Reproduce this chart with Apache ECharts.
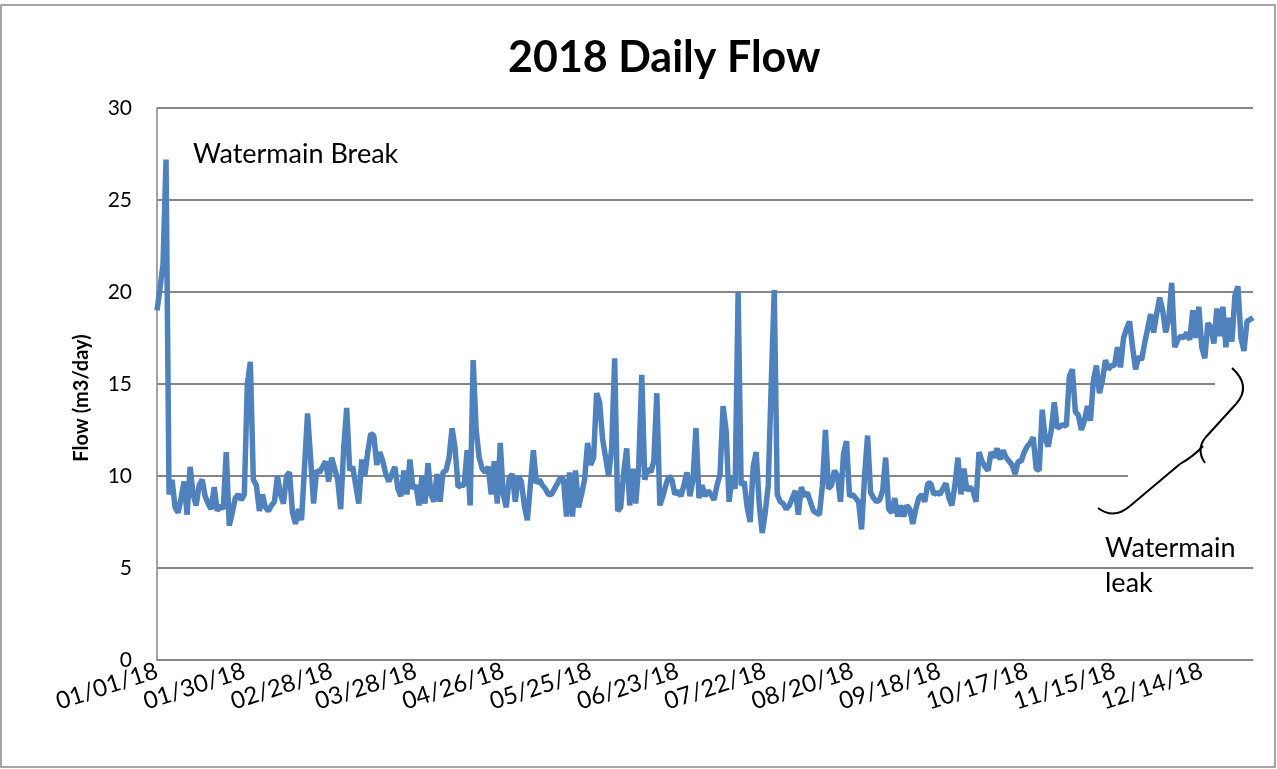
<!DOCTYPE html>
<html>
<head>
<meta charset="utf-8">
<script src="https://cdn.jsdelivr.net/npm/echarts@6/dist/echarts.min.js"></script>
<style>
html,body{margin:0;padding:0;background:#fff;}
#chart{width:1277px;height:769px;}
</style>
</head>
<body>
<div id="chart"></div>
<script>
// daily flow 2018, one array per month (m3/day)
var janFlow = [19.0,20.2,21.5,27.2,9.0,9.8,8.3,8.0,8.8,9.7,7.9,10.5,9.0,8.4,9.5,9.8,8.9,8.5,8.2,9.4,8.1,8.4,8.2,11.3,7.3,8.0,8.8,9.0,8.7,9.0,15.0];
var febFlow = [16.2,9.8,9.5,8.1,9.0,8.3,8.1,8.4,8.6,10.0,9.0,8.5,10.0,10.2,8.0,7.4,8.2,7.6,10.5,13.4,11.0,8.5,10.3,10.2,10.5,10.8,9.7,11.0];
var marFlow = [10.4,9.8,8.2,11.5,13.7,10.3,10.5,9.5,8.5,10.9,10.0,11.3,12.3,12.2,10.6,11.3,10.8,10.1,9.7,10.1,10.5,9.3,8.9,10.3,9.0,10.9,9.3,9.5,8.4,10.0,8.5];
var aprFlow = [10.7,9.0,8.6,10.1,8.6,10.2,10.3,11.0,12.6,11.5,9.4,9.5,9.5,11.4,8.4,16.3,12.5,11.0,10.4,10.2,10.5,9.0,10.8,8.5,11.8,9.0,8.3,9.9,10.1,8.6];
var mayFlow = [10.0,9.7,8.4,7.6,9.5,11.4,9.6,9.8,9.5,9.3,9.0,9.0,9.3,9.6,9.9,9.8,7.8,10.2,7.8,10.3,8.3,9.0,9.8,11.8,10.6,11.0,14.5,14.0,12.0,11.0,10.0];
var junFlow = [11.5,16.4,8.1,8.3,10.2,11.5,8.4,10.4,8.5,10.6,15.5,9.8,10.4,10.2,10.8,14.5,8.4,8.9,9.5,10.0,9.8,9.0,9.2,8.9,9.5,10.2,8.9,9.8,12.6,8.8];
var julFlow = [9.5,8.9,9.2,9.0,8.7,9.5,10.1,13.8,12.5,8.6,10.0,9.3,20.0,9.5,9.7,8.3,7.5,10.5,11.3,8.5,6.9,8.0,9.5,15.0,20.1,9.0,8.6,8.5,8.2,8.4,8.8];
var augFlow = [9.2,7.9,9.4,8.9,9.1,8.6,8.1,8.0,7.9,9.5,12.5,9.3,9.5,10.3,10.0,8.6,11.2,11.9,8.9,9.0,8.8,8.6,7.1,10.0,12.2,9.1,8.8,8.6,8.7,9.2,11.0];
var sepFlow = [8.2,8.0,8.8,7.8,8.4,7.8,8.4,8.2,7.4,8.2,8.8,9.0,8.6,9.6,9.6,9.0,9.1,9.0,9.3,9.6,8.8,8.4,9.5,11.0,9.0,10.4,9.2,9.4,9.2,8.6];
var octFlow = [11.3,10.8,10.5,10.3,11.3,11.0,11.5,10.9,11.4,11.0,10.8,10.6,10.1,10.8,10.8,11.3,11.6,11.8,12.1,10.4,10.3,13.6,12.0,11.6,12.5,14.0,12.6,12.7,12.8,12.7,15.4];
var novFlow = [15.8,13.5,13.3,12.5,13.0,13.8,13.0,15.2,16.0,14.5,15.2,16.3,15.8,16.0,16.0,17.0,15.9,17.5,18.0,18.4,17.0,15.8,16.5,16.3,17.2,18.0,18.8,17.8,18.8,19.7];
var decFlow = [19.0,17.8,18.5,20.5,17.0,17.4,17.6,17.5,17.8,17.4,19.0,17.5,19.2,17.0,16.4,18.3,18.1,17.2,19.1,17.6,19.2,17.0,18.6,17.3,19.8,20.3,17.5,16.8,18.4,18.5,18.6];

var monthFlows = [janFlow,febFlow,marFlow,aprFlow,mayFlow,junFlow,julFlow,augFlow,sepFlow,octFlow,novFlow,decFlow];
var xTickLabels = ['01/01/18','01/30/18','02/28/18','03/28/18','04/26/18','05/25/18','06/23/18','07/22/18','08/20/18','09/18/18','10/17/18','11/15/18','12/14/18'];
var yTicks = [0,5,10,15,20,25,30];

//build date categories mm/dd/18
function pad(n){ return n<10 ? '0'+n : ''+n; }
var dates = [];
var flow = [];
for(var m=0;m<monthFlows.length;m++){
	for(var d=0;d<monthFlows[m].length;d++){
		dates.push(pad(m+1)+'/'+pad(d+1)+'/18');
		flow.push(monthFlows[m][d]);
	}
}

var font = 'Lato, sans-serif';
var braceStyle = {fill:'none',stroke:'#000',lineWidth:2};
var myChart = echarts.init(document.getElementById('chart'));
var option = {
	animation:false,
	title:{
		text:'2018 Daily Flow',
		left:503,
		top:32,
		textStyle:{fontFamily:font,fontSize:43,fontWeight:'bold',color:'#000'}
	},
	grid:{left:157,right:24,top:108,bottom:109,containLabel:false},
	xAxis:{
		type:'category',
		data:dates,
		boundaryGap:false,
		axisLine:{lineStyle:{color:'#868686',width:1.5}},
		axisTick:{show:false},
		axisLabel:{
			interval:function(index,value){ return xTickLabels.indexOf(value) >= 0; },
			rotate:18,
			margin:10,
			fontFamily:font,
			fontSize:24,
			color:'#000'
		}
	},
	yAxis:{
		type:'value',
		min:yTicks[0],
		max:yTicks[yTicks.length-1],
		interval:5,
		axisLine:{show:true,lineStyle:{color:'#868686',width:1.5}},
		axisTick:{show:false},
		axisLabel:{fontFamily:font,fontSize:21,color:'#000',margin:25},
		splitLine:{lineStyle:{color:'#868686',width:1.8}}
	},
	graphic:[
		{type:'rect',shape:{x:1,y:5,width:1274,height:762},style:{fill:'none',stroke:'#888',lineWidth:1.5},silent:true},
		//y axis name
		{type:'text',x:82,y:398,rotation:Math.PI/2,z:5,style:{text:'Flow (m3/day)',fontFamily:font,fontSize:20,fontWeight:'bold',fill:'#000',align:'center',verticalAlign:'middle'}},
		//white box of the brace covering gridlines
		{type:'rect',z:1,shape:{x:1128,y:470,width:126,height:10},style:{fill:'#fff'}},
		{type:'rect',z:1,shape:{x:1215,y:379,width:39,height:10},style:{fill:'#fff'}},
		{type:'text',x:193,y:154,z:5,style:{text:'Watermain Break',fontFamily:font,fontSize:27,fill:'#000',verticalAlign:'middle'}},
		{type:'text',x:1105,y:531,z:5,style:{text:'Watermain\nleak',fontFamily:font,fontSize:27,lineHeight:35,fill:'#000'}},
		//brace
		{type:'bezierCurve',z:5,shape:{x1:1232,y1:368,cpx1:1252,cpy1:386,x2:1236,y2:404},style:braceStyle},
		{type:'line',z:5,shape:{x1:1236,y1:404,x2:1205,y2:438},style:braceStyle},
		{type:'bezierCurve',z:5,shape:{x1:1205,y1:438,cpx1:1196,cpy1:450,x2:1205,y2:463},style:braceStyle},
		{type:'bezierCurve',z:5,shape:{x1:1203,y1:446,cpx1:1194,cpy1:456,x2:1180,y2:464},style:braceStyle},
		{type:'line',z:5,shape:{x1:1180,y1:464,x2:1130,y2:506},style:braceStyle},
		{type:'bezierCurve',z:5,shape:{x1:1130,y1:506,cpx1:1114,cpy1:520,x2:1098,y2:508},style:braceStyle}
	],
	series:[{
		name:'Flow',
		type:'line',
		data:flow,
		showSymbol:false,
		z:3,
		lineStyle:{color:'#4F81BD',width:5.5},
		itemStyle:{color:'#4F81BD'}
	}]
};
myChart.setOption(option);
</script>
</body>
</html>
